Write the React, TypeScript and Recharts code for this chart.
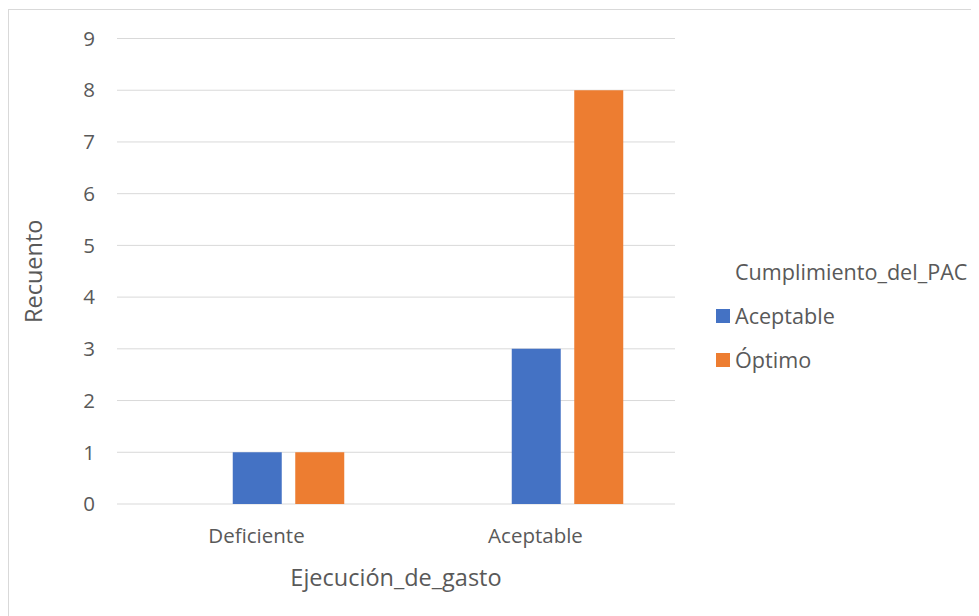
import React from "react";
import {
  BarChart,
  Bar,
  XAxis,
  YAxis,
  CartesianGrid,
  Label,
} from "recharts";

const categories = ["Deficiente", "Aceptable"];
// Excel leaves an empty slot for a category with no counts
const blankSeries: (number | null)[] = [null, null];
const aceptableSeries = [1, 3];
const optimoSeries = [1, 8];
const yTicks = [0, 1, 2, 3, 4, 5, 6, 7, 8, 9];

const legendTitle = "Cumplimiento_del_PAC";
const legendItems = [
  { name: "Aceptable", color: "#4472C4" },
  { name: "Óptimo", color: "#ED7D31" },
];

const data = categories.map((c, i) => ({
  name: c,
  blank: blankSeries[i],
  aceptable: aceptableSeries[i],
  optimo: optimoSeries[i],
}));

const font = "'Open Sans', sans-serif";
const textColor = "#595959";
const fs = 20.5;
const titleFs = 23.5;
const legendFs = 21.6;

const App = () => {
  return (
    <div
      style={{
        position: "relative",
        width: 971,
        height: 606,
        marginTop: 1,
        border: "1px solid #d9d9d9",
        background: "#fff",
        fontFamily: font,
      }}
    >
      <BarChart
        width={971}
        height={606}
        data={data}
        margin={{ top: 28.5, right: 305, left: 0, bottom: 0 }}
        barCategoryGap={53.25}
        barGap={13.5}
      >
        <CartesianGrid vertical={false} stroke="#d9d9d9" strokeWidth={1} />
        <XAxis
          dataKey="name"
          height={112}
          axisLine={false}
          tickLine={false}
          tickSize={0}
          tickMargin={24}
          tick={{ fill: textColor, fontSize: fs, fontFamily: font }}
        >
          <Label
            content={({ viewBox }: any) => (
              <text
                x={viewBox.x + viewBox.width / 2}
                y={viewBox.y + 73}
                textAnchor="middle"
                dominantBaseline="central"
                fill={textColor}
                fontSize={titleFs}
                fontFamily={font}
              >
                Ejecución_de_gasto
              </text>
            )}
          />
        </XAxis>
        <YAxis
          width={108}
          domain={[0, 9]}
          ticks={yTicks}
          interval={0}
          axisLine={false}
          tickLine={false}
          tickSize={0}
          tickMargin={22}
          tick={{ fill: textColor, fontSize: fs, fontFamily: font }}
        >
          <Label
            content={({ viewBox }: any) => {
              const cx = 24;
              const cy = viewBox.y + viewBox.height / 2;
              return (
                <text
                  x={cx}
                  y={cy}
                  textAnchor="middle"
                  dominantBaseline="central"
                  transform={`rotate(-90 ${cx} ${cy})`}
                  fill={textColor}
                  fontSize={titleFs}
                  fontFamily={font}
                >
                  Recuento
                </text>
              );
            }}
          />
        </YAxis>
        <Bar dataKey="blank" fill="#A5A5A5" isAnimationActive={false} />
        <Bar dataKey="aceptable" fill="#4472C4" isAnimationActive={false} />
        <Bar dataKey="optimo" fill="#ED7D31" isAnimationActive={false} />
      </BarChart>

      <div
        style={{
          position: "absolute",
          left: 707,
          top: 240,
          color: textColor,
          fontSize: legendFs,
          lineHeight: "44px",
          whiteSpace: "nowrap",
        }}
      >
        <div style={{ paddingLeft: 19 }}>{legendTitle}</div>
        {legendItems.map((it) => (
          <div key={it.name} style={{ display: "flex", alignItems: "center" }}>
            <span
              style={{
                display: "inline-block",
                width: 14,
                height: 14,
                background: it.color,
                marginRight: 5,
              }}
            />
            <span>{it.name}</span>
          </div>
        ))}
      </div>
    </div>
  );
};

export default App;
